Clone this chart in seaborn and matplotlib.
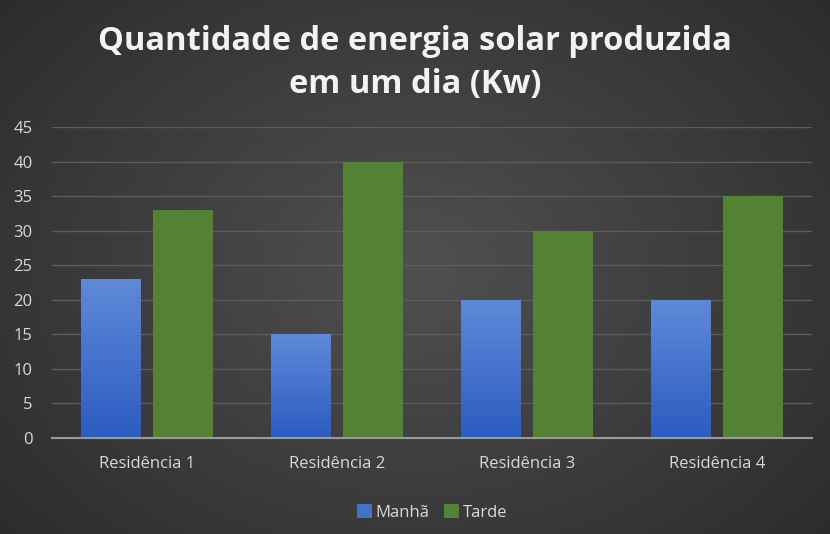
import numpy as np
import pandas as pd
import matplotlib
matplotlib.use("Agg")
import matplotlib.pyplot as plt
import seaborn as sns
from matplotlib.colors import LinearSegmentedColormap

categories = ["Residência 1", "Residência 2", "Residência 3", "Residência 4"]
manha = [23, 15, 20, 20]
tarde = [33, 40, 30, 35]
series_names = ["Manhã", "Tarde"]
yticks = [0, 5, 10, 15, 20, 25, 30, 35, 40, 45]
title = "Quantidade de energia solar produzida\nem um dia (Kw)"

df = pd.DataFrame({
    "cat": categories * 2,
    "serie": [series_names[0]] * 4 + [series_names[1]] * 4,
    "val": manha + tarde,
})

sns.set_theme(style="dark")
plt.rcParams['font.family'] = ['Open Sans', 'DejaVu Sans']

fig = plt.figure(figsize=(8.3, 5.34), dpi=100)
# radial gradient background
bg = fig.add_axes([0, 0, 1, 1], zorder=0)
yy, xx = np.mgrid[0:534, 0:830]
r = np.sqrt(((xx - 415) / 560) ** 2 + ((yy - 267) / 420) ** 2)
val = np.clip(1 - r, 0, 1)
cmap_bg = LinearSegmentedColormap.from_list("bg", ["#2c2c2c", "#505050"])
bg.imshow(val, cmap=cmap_bg, aspect="auto", extent=[0, 1, 0, 1], origin="upper")
bg.set_axis_off()

ax = fig.add_axes([52 / 830, 1 - 438 / 534, 760 / 830, 311 / 534], zorder=1)
ax.patch.set_alpha(0)

palette = {"Manhã": "#4472c4", "Tarde": "#548235"}
sns.barplot(data=df, x="cat", y="val", hue="serie", palette=palette,
            width=0.76, gap=0.18, ax=ax, saturation=1, legend=True,
            linewidth=0, edgecolor="none")

# gradient overlay for blue bars
grad = np.linspace(0, 1, 100).reshape(-1, 1)
cmap_blue = LinearSegmentedColormap.from_list("bl", ["#2c5cc2", "#5f89d8"])
for p in ax.patches[:4]:
    x0, y0 = p.get_x(), p.get_y()
    w, h = p.get_width(), p.get_height()
    im = ax.imshow(grad, cmap=cmap_blue, extent=[x0, x0 + w, y0, y0 + h],
                   origin="lower", aspect="auto", zorder=2.5)
    im.set_clip_path(p)
ax.set_xlim(-0.5, 3.5)
ax.set_ylim(0, 45)
ax.set_yticks(yticks)
ax.set_yticklabels([str(t) for t in yticks])
ax.yaxis.grid(True, color="#5c5c5c", linewidth=1)
ax.xaxis.grid(False)
ax.set_axisbelow(True)
for s in ["top", "right", "left"]:
    ax.spines[s].set_visible(False)
ax.spines["bottom"].set_color("#9a9a9a")
ax.spines["bottom"].set_linewidth(1.5)
ax.tick_params(axis="both", colors="#d9d9d9", labelsize=12, length=0)
ax.tick_params(axis="x", pad=13)
ax.tick_params(axis="y", pad=14)
ax.set_xlabel("")
ax.set_ylabel("")

leg = ax.legend(loc="upper center", bbox_to_anchor=(0.5, -0.165), ncol=2,
                frameon=False, fontsize=12, handlelength=0.9, handleheight=0.9,
                handletextpad=0.2, columnspacing=0.9)
for t in leg.get_texts():
    t.set_color("#d9d9d9")

fig.text(0.5, 1 - 63 / 534, title, ha="center", va="center", color="#f2f2f2",
         fontsize=23.5, fontweight="bold", linespacing=1.4)

fig.savefig("out.png", dpi=100)
